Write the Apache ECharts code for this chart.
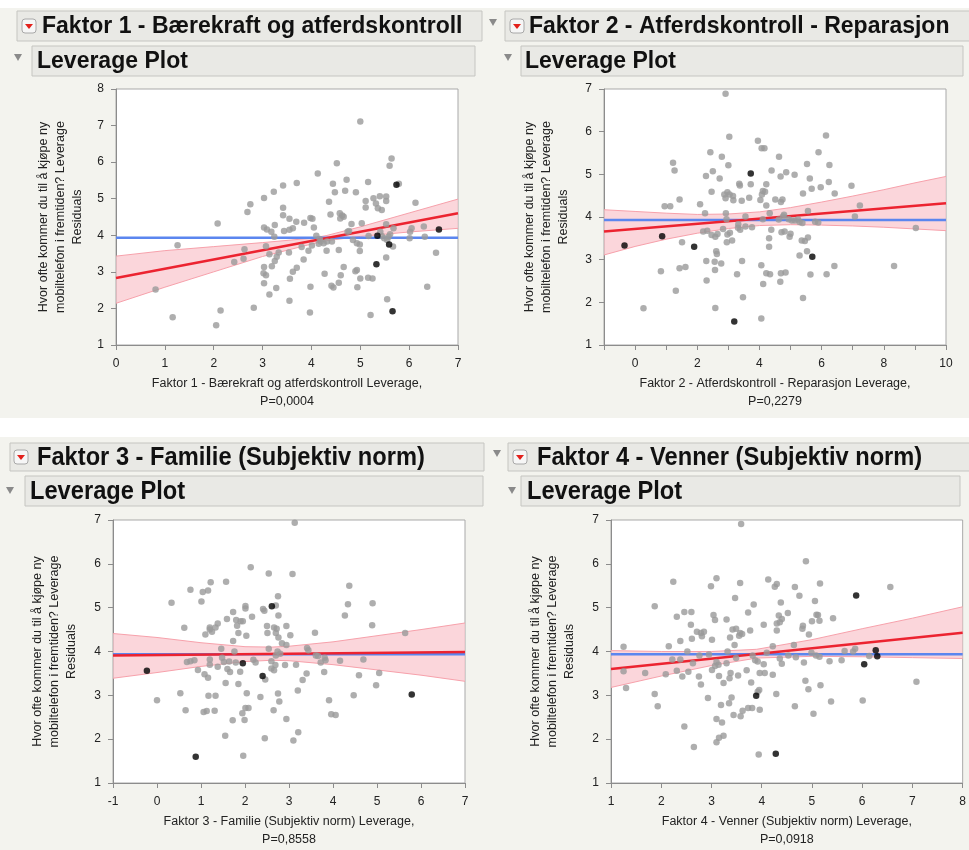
<!DOCTYPE html>
<html><head><meta charset="utf-8">
<script src="https://cdn.jsdelivr.net/npm/echarts@6/dist/echarts.min.js"></script>
<style>html,body{margin:0;padding:0;background:#fff}#c{width:969px;height:850px}</style>
</head><body><div id="c"></div>
<script>
// ---------- Data ----------
const yTitle = 'Hvor ofte kommer du til å kjøpe ny\nmobiltelefon i fremtiden? Leverage\nResiduals';
const headers = ['Faktor 1 - Bærekraft og atferdskontroll','Faktor 2 - Atferdskontroll - Reparasjon','Faktor 3 - Familie (Subjektiv norm)','Faktor 4 - Venner (Subjektiv norm)'];
const subHeader = 'Leverage Plot';
const xTitles = ['Faktor 1 - Bærekraft og atferdskontroll Leverage,\nP=0,0004','Faktor 2 - Atferdskontroll - Reparasjon Leverage,\nP=0,2279','Faktor 3 - Familie (Subjektiv norm) Leverage,\nP=0,8558','Faktor 4 - Venner (Subjektiv norm) Leverage,\nP=0,0918'];

const xRanges = [[0,7],[-1,10],[-1,7],[1,8]];
const yRanges = [[1,8],[1,7],[1,7],[1,7]];

// Panel 1
const p1Gray = [[5.00,7.11],[5.64,6.10],[5.60,5.90],[4.52,5.97],[4.13,5.69],[4.72,5.52],[5.16,5.46],[4.44,5.41],[3.70,5.43],[3.42,5.36],[5.79,5.41],[4.48,5.18],[4.69,5.22],[4.91,5.18],[3.23,5.19],[3.03,5.02],[2.75,4.85],[2.69,4.64],[4.36,4.92],[5.11,4.94],[5.27,5.01],[5.40,5.07],[5.53,5.06],[5.53,4.94],[5.32,4.87],[5.11,4.76],[5.36,4.74],[5.44,4.69],[6.13,4.89],[3.42,4.75],[3.42,4.55],[3.55,4.45],[3.69,4.37],[3.98,4.47],[4.02,4.45],[3.85,4.34],[4.39,4.57],[4.58,4.60],[4.63,4.54],[4.59,4.46],[4.66,4.51],[4.82,4.31],[5.03,4.33],[5.53,4.30],[5.68,4.19],[2.08,4.32],[3.25,4.28],[3.03,4.21],[3.09,4.16],[3.18,4.10],[3.24,3.96],[3.44,4.12],[3.55,4.15],[3.62,4.19],[4.05,4.21],[4.10,3.99],[4.17,3.90],[4.19,3.83],[4.25,3.78],[4.15,3.77],[4.32,3.83],[4.42,3.83],[4.74,4.10],[4.77,4.12],[4.85,3.87],[4.93,3.78],[4.99,3.75],[5.17,3.98],[5.41,4.10],[5.44,3.98],[5.58,3.96],[5.61,4.03],[5.49,3.92],[5.55,3.87],[5.67,3.69],[6.01,3.92],[6.02,4.10],[6.05,4.19],[6.30,4.24],[6.32,3.96],[6.55,3.52],[1.26,3.73],[2.63,3.62],[2.61,3.36],[2.42,3.27],[3.07,3.70],[3.14,3.48],[3.33,3.53],[3.29,3.41],[3.25,3.30],[3.19,3.15],[3.03,3.13],[3.02,2.96],[3.07,2.91],[3.03,2.69],[3.54,3.53],[3.80,3.68],[4.01,3.72],[3.94,3.58],[3.84,3.34],[3.70,3.11],[3.62,3.00],[3.56,2.81],[4.31,3.58],[4.56,3.60],[4.66,3.13],[4.93,3.05],[4.90,3.02],[4.99,3.57],[4.27,2.95],[4.60,2.91],[4.56,2.70],[4.41,2.62],[4.45,2.57],[3.98,2.59],[5.00,2.82],[5.16,2.84],[5.25,2.82],[4.94,2.58],[5.53,3.39],[6.37,2.59],[0.81,2.52],[3.14,2.38],[3.28,2.56],[3.55,2.21],[5.55,2.25],[2.82,2.02],[2.14,1.94],[1.16,1.76],[2.05,1.54],[3.97,1.89],[5.21,1.82]];
const p1Black = [[5.74,5.38],[5.35,3.99],[5.59,3.75],[5.33,3.21],[5.66,1.92],[6.61,4.16]];
const p1Fit = [[0,2.83],[7,4.60]];
const p1Mean = 3.93;
const p1BandX = [0,1,2,3,4,4.3,5,6,7];
const p1BandLo = [2.14,2.58,3.00,3.42,3.76,3.85,3.97,4.09,4.19];
const p1BandHi = [3.43,3.58,3.69,3.80,3.92,3.99,4.23,4.61,4.99];

// Panel 2
const p2Gray = [[2.91,6.89],[3.03,5.88],[3.95,5.79],[4.07,5.61],[4.16,5.61],[6.14,5.91],[5.90,5.52],[1.22,5.27],[1.27,5.09],[2.42,5.52],[2.79,5.41],[3.00,5.21],[2.50,5.07],[2.28,4.96],[2.72,4.90],[4.39,5.09],[4.63,5.41],[4.68,4.95],[4.86,5.05],[5.13,4.99],[5.53,5.24],[6.25,5.22],[5.62,4.90],[6.23,4.82],[3.35,4.78],[3.37,4.74],[3.72,4.77],[4.22,4.77],[2.46,4.59],[2.87,4.53],[2.97,4.58],[3.04,4.53],[3.15,4.49],[2.91,4.44],[3.16,4.39],[3.43,4.38],[3.67,4.45],[4.11,4.61],[4.18,4.59],[4.08,4.53],[4.03,4.40],[4.22,4.27],[4.51,4.41],[4.69,4.35],[4.74,4.41],[5.40,4.55],[5.68,4.66],[5.97,4.70],[6.42,4.55],[6.96,4.73],[7.23,4.27],[7.07,4.01],[2.09,4.30],[1.43,4.41],[0.95,4.25],[1.13,4.25],[2.25,4.09],[2.92,4.09],[2.94,3.95],[3.55,4.01],[4.33,4.09],[4.79,4.05],[4.76,4.01],[4.94,3.95],[5.04,3.92],[5.14,3.92],[5.24,3.94],[5.29,3.88],[5.38,3.86],[4.11,3.95],[4.62,3.94],[5.56,4.14],[5.79,3.89],[5.89,3.87],[3.32,3.83],[3.31,3.75],[3.38,3.70],[3.55,3.78],[3.76,3.76],[2.83,3.72],[2.19,3.66],[2.32,3.68],[2.46,3.58],[2.58,3.54],[2.65,3.60],[3.05,3.63],[2.97,3.59],[3.12,3.45],[2.95,3.41],[4.38,3.70],[4.71,3.64],[4.81,3.66],[5.00,3.61],[4.97,3.54],[5.36,3.45],[5.46,3.44],[5.56,3.52],[4.31,3.50],[4.31,3.30],[1.51,3.41],[5.53,3.20],[2.61,3.20],[2.63,3.13],[5.29,3.10],[2.29,2.97],[2.56,2.95],[2.77,2.91],[3.44,2.97],[4.06,2.87],[0.83,2.73],[1.43,2.80],[1.62,2.83],[2.57,2.76],[3.28,2.66],[4.22,2.68],[4.34,2.66],[4.69,2.68],[4.84,2.70],[4.67,2.48],[5.64,2.65],[6.16,2.66],[6.41,2.85],[8.33,2.85],[4.12,2.43],[2.30,2.51],[1.31,2.27],[3.47,2.12],[5.40,2.10],[0.27,1.86],[2.58,1.87],[4.06,1.62],[9.03,3.74]];
const p2Black = [[-0.34,3.33],[0.87,3.55],[1.90,3.30],[3.72,5.02],[5.70,3.07],[3.19,1.55]];
const p2Fit = [[-1,3.66],[10,4.32]];
const p2Mean = 3.93;
const p2BandX = [-1,0,1,2,3,4,5,6,7,8,9,10];
const p2BandLo = [3.11,3.31,3.48,3.62,3.73,3.80,3.82,3.81,3.79,3.76,3.72,3.68];
const p2BandHi = [4.17,4.13,4.09,4.06,4.07,4.12,4.22,4.35,4.49,4.64,4.80,4.95];

// Panel 3
const p3Gray = [[3.13,6.94],[2.13,5.92],[2.54,5.78],[3.08,5.77],[1.57,5.59],[1.22,5.58],[0.76,5.41],[1.04,5.36],[1.16,5.39],[1.01,5.14],[0.33,5.11],[4.37,5.50],[4.34,5.08],[4.90,5.10],[4.27,4.82],[4.89,4.60],[2.75,5.26],[2.70,5.05],[2.01,5.04],[2.01,4.98],[2.41,4.97],[2.44,4.93],[2.76,4.82],[2.16,4.79],[1.73,4.90],[1.59,4.74],[1.80,4.72],[1.90,4.69],[1.95,4.69],[1.82,4.59],[1.38,4.64],[1.33,4.55],[1.20,4.55],[1.20,4.50],[1.25,4.45],[1.10,4.39],[0.62,4.54],[1.85,4.42],[2.03,4.36],[2.50,4.58],[2.66,4.55],[2.72,4.52],[2.94,4.58],[2.51,4.42],[2.70,4.42],[2.76,4.32],[3.03,4.37],[3.59,4.43],[1.73,4.24],[1.46,4.06],[1.76,4.00],[2.84,4.19],[2.94,4.15],[2.54,4.06],[2.74,4.00],[2.80,3.95],[2.70,3.91],[3.41,4.08],[3.44,4.03],[3.61,3.91],[3.66,3.90],[3.81,3.86],[3.83,3.80],[3.72,3.75],[4.16,3.79],[4.69,3.82],[5.64,4.42],[0.68,3.76],[0.76,3.78],[0.85,3.80],[0.93,3.58],[1.20,3.82],[1.20,3.70],[1.38,3.65],[1.48,3.86],[1.52,3.76],[1.64,3.77],[1.60,3.60],[1.66,3.53],[1.79,3.75],[1.89,3.54],[2.19,3.81],[2.24,3.75],[2.60,3.78],[2.69,3.69],[2.60,3.61],[2.66,3.57],[2.91,3.69],[3.16,3.70],[2.46,3.36],[3.40,3.50],[3.31,3.35],[3.80,3.53],[4.59,3.46],[5.05,3.51],[4.98,3.23],[1.08,3.48],[1.16,3.40],[1.56,3.28],[1.85,3.26],[0.53,3.05],[1.17,2.99],[1.33,2.99],[2.04,3.05],[2.35,2.96],[2.75,3.04],[2.78,2.86],[3.20,3.11],[3.91,2.89],[4.47,3.00],[0.00,2.89],[0.65,2.66],[1.06,2.62],[1.13,2.64],[1.31,2.65],[2.01,2.71],[2.08,2.71],[1.94,2.59],[1.99,2.44],[1.72,2.43],[2.65,2.66],[2.94,2.46],[3.96,2.57],[4.06,2.55],[1.55,2.08],[2.45,2.02],[3.10,1.97],[3.21,2.16],[1.96,1.62]];
const p3Black = [[-0.23,3.56],[1.95,3.73],[2.61,5.03],[2.40,3.44],[5.79,3.02],[0.88,1.60]];
const p3Fit = [[-1,3.91],[7,3.99]];
const p3Mean = 3.94;
const p3BandX = [-1,0,1,2,2.6,3,4,5,6,7];
const p3BandLo = [3.39,3.52,3.66,3.77,3.80,3.79,3.70,3.58,3.46,3.32];
const p3BandHi = [4.41,4.32,4.20,4.11,4.10,4.12,4.22,4.36,4.50,4.65];

// Panel 4
const p4Gray = [[3.59,6.91],[4.88,6.06],[2.24,5.59],[3.10,5.67],[2.99,5.49],[3.57,5.56],[4.13,5.64],[4.30,5.54],[4.26,5.48],[4.66,5.47],[5.16,5.55],[6.56,5.47],[4.75,5.27],[3.47,5.22],[3.84,5.07],[4.38,5.12],[5.06,5.15],[1.87,5.03],[2.46,4.90],[2.60,4.90],[2.31,4.79],[3.04,4.83],[3.07,4.72],[3.30,4.73],[3.73,4.89],[4.52,4.88],[4.34,4.82],[4.40,4.74],[4.36,4.67],[4.30,4.64],[5.09,4.84],[5.12,4.83],[5.15,4.70],[5.00,4.69],[5.42,4.76],[2.59,4.61],[4.04,4.61],[4.82,4.59],[4.81,4.52],[4.94,4.39],[2.71,4.45],[2.79,4.42],[2.85,4.45],[2.81,4.35],[3.42,4.50],[3.49,4.52],[3.57,4.42],[3.61,4.40],[3.55,4.36],[3.01,4.27],[2.61,4.29],[3.37,4.32],[3.77,4.48],[4.30,4.48],[3.46,4.15],[2.38,4.24],[1.25,4.11],[2.15,4.12],[2.52,4.00],[2.95,3.93],[2.76,3.91],[3.32,4.00],[3.49,3.85],[3.82,3.91],[3.87,3.80],[3.92,3.77],[4.04,3.71],[4.10,3.97],[4.22,4.12],[4.64,4.15],[4.53,3.91],[4.68,3.87],[4.99,3.97],[5.08,3.91],[5.15,3.88],[4.36,3.84],[4.40,3.72],[4.84,3.75],[5.35,3.78],[5.59,3.80],[5.65,4.01],[5.82,4.00],[5.86,4.06],[6.14,3.90],[2.22,3.82],[2.38,3.82],[2.63,3.73],[3.10,3.76],[3.14,3.70],[3.07,3.67],[3.30,3.73],[1.25,3.55],[1.68,3.51],[2.09,3.48],[2.31,3.56],[2.54,3.54],[2.42,3.43],[3.01,3.58],[3.15,3.44],[2.75,3.43],[2.79,3.25],[3.24,3.28],[3.38,3.51],[3.36,3.39],[3.53,3.45],[3.70,3.57],[3.96,3.51],[4.06,3.51],[4.22,3.47],[3.79,3.29],[4.87,3.33],[4.93,3.14],[5.17,3.23],[7.08,3.31],[1.30,3.17],[1.87,3.03],[1.93,2.75],[2.93,2.94],[3.40,2.95],[3.35,2.82],[3.19,2.78],[3.95,3.12],[3.92,3.08],[4.29,3.03],[3.44,2.55],[3.58,2.52],[3.62,2.65],[3.73,2.71],[3.81,2.71],[3.96,2.67],[4.66,2.75],[5.03,2.58],[5.38,2.86],[6.01,2.88],[3.10,2.46],[3.21,2.38],[2.46,2.29],[3.24,2.08],[3.15,2.03],[3.10,1.93],[2.65,1.82],[3.94,1.65]];
const p4Black = [[5.88,5.28],[6.27,4.03],[6.30,3.89],[6.04,3.71],[3.89,2.99],[4.28,1.67]];
const p4Fit = [[1,3.60],[8,4.43]];
const p4Mean = 3.94;
const p4BandX = [1,2,3,3.9,5,6,7,8];
const p4BandLo = [3.18,3.44,3.68,3.85,3.89,3.88,3.86,3.84];
const p4BandHi = [4.02,4.00,4.00,4.05,4.27,4.52,4.76,5.02];

// ---------- Build ----------
const FONT = '"Liberation Sans", Arial, Helvetica, sans-serif';
const grids = [
  {left:116, top:89, width:342, height:256},
  {left:604, top:89, width:342, height:256},
  {left:113, top:520, width:352, height:266},
  {left:611, top:520, width:352, height:266}
];
const yNameGap = [30, 32, 33, 33];
const panels = [
  {gray:p1Gray, black:p1Black, fit:p1Fit, mean:p1Mean, bx:p1BandX, lo:p1BandLo, hi:p1BandHi},
  {gray:p2Gray, black:p2Black, fit:p2Fit, mean:p2Mean, bx:p2BandX, lo:p2BandLo, hi:p2BandHi},
  {gray:p3Gray, black:p3Black, fit:p3Fit, mean:p3Mean, bx:p3BandX, lo:p3BandLo, hi:p3BandHi},
  {gray:p4Gray, black:p4Black, fit:p4Fit, mean:p4Mean, bx:p4BandX, lo:p4BandLo, hi:p4BandHi}
];

const axisCommon = {
  axisLine:{show:true, onZero:false, lineStyle:{color:'#8c8c8c', width:1}},
  axisTick:{show:true, inside:false, length:5, lineStyle:{color:'#8c8c8c'}},
  splitLine:{show:false}
};

const xAxes = [], yAxes = [], series = [];
panels.forEach((p, i) => {
  xAxes.push(Object.assign({}, axisCommon, {
    gridIndex:i, type:'value', min:xRanges[i][0], max:xRanges[i][1], interval:1,
    name:xTitles[i], nameLocation:'middle', nameGap:30,
    nameTextStyle:{color:'#222', fontSize:12.5, fontFamily:FONT, lineHeight:18},
    axisLabel:{color:'#222', fontSize:12, fontFamily:FONT, margin:13,
      formatter: i === 1 ? (v => (v % 2 === 0 ? String(v) : '')) : (v => String(v))}
  }));
  yAxes.push(Object.assign({}, axisCommon, {
    gridIndex:i, type:'value', min:yRanges[i][0], max:yRanges[i][1], interval:1,
    name:yTitle, nameLocation:'middle', nameGap:yNameGap[i],
    nameTextStyle:{color:'#222', fontSize:12.5, fontFamily:FONT, lineHeight:17, align:'center'},
    axisLabel:{color:'#222', fontSize:12, fontFamily:FONT, margin:12}
  }));
  const band = p.bx.map((x, k) => [x, p.lo[k], p.hi[k]]);
  series.push({
    type:'custom', xAxisIndex:i, yAxisIndex:i, data:band, silent:true, z:1, clip:true,
    encode:{x:0, y:[1,2]},
    renderItem:(params, api) => {
      if (params.dataIndex !== 0) return null;
      const top = band.map(d => api.coord([d[0], d[2]]));
      const bot = band.map(d => api.coord([d[0], d[1]])).reverse();
      return {type:'polygon', shape:{points: top.concat(bot)}, style:{fill:'rgba(250,200,207,0.75)'}};
    }
  });
  series.push({type:'line', xAxisIndex:i, yAxisIndex:i, data:band.map(d=>[d[0],d[1]]), showSymbol:false, silent:true, z:2,
    lineStyle:{color:'#f7a1ab', width:1}});
  series.push({type:'line', xAxisIndex:i, yAxisIndex:i, data:band.map(d=>[d[0],d[2]]), showSymbol:false, silent:true, z:2,
    lineStyle:{color:'#f7a1ab', width:1}});
  series.push({type:'line', xAxisIndex:i, yAxisIndex:i, data:[[xRanges[i][0], p.mean],[xRanges[i][1], p.mean]], showSymbol:false, silent:true, z:3,
    lineStyle:{color:'#5b86ef', width:2.5}});
  series.push({type:'line', xAxisIndex:i, yAxisIndex:i, data:p.fit, showSymbol:false, silent:true, z:4,
    lineStyle:{color:'#ec2330', width:2.5}});
  series.push({type:'scatter', xAxisIndex:i, yAxisIndex:i, data:p.gray, symbol:'circle', symbolSize:6.5, silent:true, z:5,
    itemStyle:{color:'#9a9a9a'}});
  series.push({type:'scatter', xAxisIndex:i, yAxisIndex:i, data:p.black, symbol:'circle', symbolSize:6.5, silent:true, z:6,
    itemStyle:{color:'#000'}});
});

// header graphics
const G = [];
function box(x,y,w,h){G.push({type:'rect', shape:{x:x,y:y,width:w,height:h}, style:{fill:'#e9e9e5', stroke:'#c5c5c1', lineWidth:1}, silent:true});}
function redIcon(x,y){
  G.push({type:'rect', shape:{x:x,y:y,width:14,height:14,r:3}, style:{fill:'#f6f6f6', stroke:'#a8a8a8', lineWidth:1}, silent:true});
  G.push({type:'polygon', shape:{points:[[x+3,y+5],[x+11,y+5],[x+7,y+10]]}, style:{fill:'#e3201b'}, silent:true});
}
function tri(x,y){G.push({type:'polygon', shape:{points:[[x,y],[x+8,y],[x+4,y+7]]}, style:{fill:'#8a8a8a'}, silent:true});}
function txt(s,x,y,size,sx){G.push({type:'text', x:x, y:y, scaleX:sx||1, style:{text:s, x:0, y:0, font:'bold '+size+'px '+FONT, fill:'#111', textVerticalAlign:'middle'}, silent:true});}

G.push({type:'rect', shape:{x:0,y:0,width:969,height:8}, style:{fill:'#fff'}, silent:true});
G.push({type:'rect', shape:{x:0,y:418,width:969,height:19}, style:{fill:'#fff'}, silent:true});
// row 1
box(17,11,465,30); redIcon(22,19); txt(headers[0],42,27,23);
tri(14,54); box(32,46,443,30); txt(subHeader,37,62,23);
tri(489,19); box(505,11,470,30); redIcon(510,19); txt(headers[1],529,27,23);
tri(504,54); box(521,46,442,30); txt(subHeader,525,62,23);
// row 2
box(10,443,474,28); redIcon(14,450); txt(headers[2],37,458,26,0.91);
tri(6,487); box(25,476,458,30); txt(subHeader,30,492,26,0.91);
tri(493,450); box(508,443,470,28); redIcon(513,450); txt(headers[3],537,458,26,0.91);
tri(508,487); box(521,476,439,30); txt(subHeader,527,492,26,0.91);

const chart = echarts.init(document.getElementById('c'), null, {renderer:'canvas'});
chart.setOption({
  animation:false,
  backgroundColor:'#f3f3ee',
  textStyle:{fontFamily:FONT},
  grid: grids.map(g => Object.assign({show:true, backgroundColor:'#fff', borderColor:'#a9a9a9', borderWidth:1, containLabel:false}, g)),
  xAxis:xAxes, yAxis:yAxes, series:series, graphic:G
});
</script></body></html>
